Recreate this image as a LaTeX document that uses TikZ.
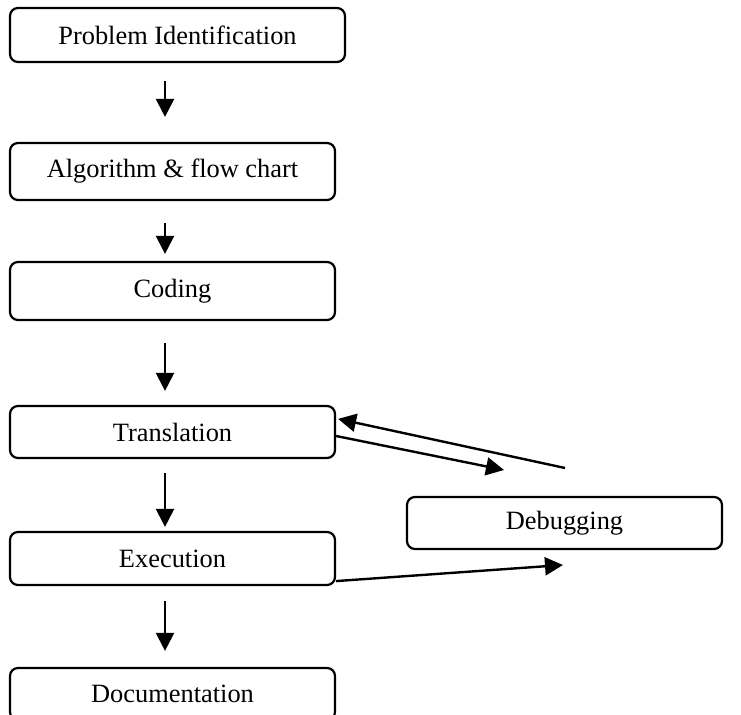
\documentclass[tikz,border=0pt]{standalone}
\usepackage{fontspec}
\setmainfont{Liberation Serif}
\usetikzlibrary{arrows.meta}
\begin{document}
\begin{tikzpicture}[x=0.5pt,y=-0.5pt,
  box/.style={draw, line width=1.1pt, rounded corners=4pt, inner sep=0pt,
    font=\fontsize{13.2}{15}\selectfont},
  arr/.style={line width=1.2pt, -{Triangle[length=9pt,width=9pt]}}]
\clip (0,0) rectangle (741,715);
\fill[white] (0,0) rectangle (741,715);
\node[box, minimum width=167.5pt, minimum height=27pt] (pi) at (177.5,35) {Problem Identification};
\node[box, minimum width=162.5pt, minimum height=28.5pt] (alg) at (172.5,171.5) {Algorithm \& flow chart};
\node[box, minimum width=162.5pt, minimum height=29pt] (cod) at (172.5,291) {Coding};
\node[box, minimum width=162.5pt, minimum height=26pt] (tra) at (172.5,432) {Translation};
\node[box, minimum width=162.5pt, minimum height=26.5pt] (exe) at (172.5,558.5) {Execution};
\node[box, minimum width=162.5pt, minimum height=26pt] (doc) at (172.5,694) {Documentation};
\node[box, minimum width=157.5pt, minimum height=26pt] (dbg) at (564.5,523) {Debugging};
\coordinate (ax) at (165,0);
\coordinate (d1) at (504,470);
\coordinate (d2) at (565,468);
\coordinate (d3) at (563,565);
\draw[arr, shorten <=9pt, shorten >=12.5pt] (pi.south -| ax) -- (alg.north -| ax);
\draw[arr, shorten <=11pt, shorten >=3.5pt] (alg.south -| ax) -- (cod.north -| ax);
\draw[arr, shorten <=11pt, shorten >=7pt] (cod.south -| ax) -- (tra.north -| ax);
\draw[arr, shorten <=7pt, shorten >=2pt] (tra.south -| ax) -- (exe.north -| ax);
\draw[arr, shorten <=7.5pt, shorten >=8pt] (exe.south -| ax) -- (doc.north -| ax);
\draw[arr] ([yshift=-2pt]tra.east) -- (d1);
\draw[arr] (d2) -- ([xshift=1pt,yshift=-7pt]tra.north east);
\draw[arr] ([yshift=2.5pt]exe.south east) -- (d3);
\end{tikzpicture}
\end{document}
